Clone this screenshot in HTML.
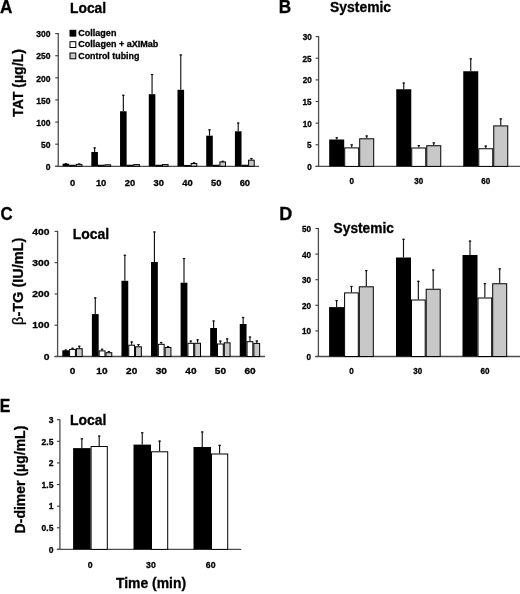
<!DOCTYPE html>
<html><head><meta charset="utf-8"><style>
html,body{margin:0;padding:0;background:#fff;}
svg{display:block;font-family:"Liberation Sans", sans-serif;will-change:transform;}
text{stroke:#000;stroke-width:0.3px;paint-order:stroke;}
</style></head><body>
<svg width="520" height="594" viewBox="0 0 520 594">
<rect width="520" height="594" fill="#fff"/>
<line x1="58.25" y1="33.10" x2="58.25" y2="166.30" stroke="#4d4d4d" stroke-width="1.3"/>
<line x1="55.25" y1="166.30" x2="58.25" y2="166.30" stroke="#3a3a3a" stroke-width="1.1"/>
<line x1="55.25" y1="144.18" x2="58.25" y2="144.18" stroke="#3a3a3a" stroke-width="1.1"/>
<line x1="55.25" y1="122.07" x2="58.25" y2="122.07" stroke="#3a3a3a" stroke-width="1.1"/>
<line x1="55.25" y1="99.95" x2="58.25" y2="99.95" stroke="#3a3a3a" stroke-width="1.1"/>
<line x1="55.25" y1="77.83" x2="58.25" y2="77.83" stroke="#3a3a3a" stroke-width="1.1"/>
<line x1="55.25" y1="55.72" x2="58.25" y2="55.72" stroke="#3a3a3a" stroke-width="1.1"/>
<line x1="55.25" y1="33.60" x2="58.25" y2="33.60" stroke="#3a3a3a" stroke-width="1.1"/>
<line x1="55.25" y1="166.30" x2="259.10" y2="166.30" stroke="#4d4d4d" stroke-width="1.3"/>
<text x="45.83" y="170.00" font-size="9.2" font-weight="bold" textLength="4.76" lengthAdjust="spacingAndGlyphs" >0</text>
<text x="41.09" y="147.88" font-size="9.2" font-weight="bold" textLength="9.51" lengthAdjust="spacingAndGlyphs" >50</text>
<text x="36.34" y="125.77" font-size="9.2" font-weight="bold" textLength="14.28" lengthAdjust="spacingAndGlyphs" >100</text>
<text x="36.34" y="103.65" font-size="9.2" font-weight="bold" textLength="14.28" lengthAdjust="spacingAndGlyphs" >150</text>
<text x="36.34" y="81.53" font-size="9.2" font-weight="bold" textLength="14.28" lengthAdjust="spacingAndGlyphs" >200</text>
<text x="36.34" y="59.42" font-size="9.2" font-weight="bold" textLength="14.28" lengthAdjust="spacingAndGlyphs" >250</text>
<text x="36.34" y="37.30" font-size="9.2" font-weight="bold" textLength="14.28" lengthAdjust="spacingAndGlyphs" >300</text>
<line x1="65.90" y1="163.20" x2="65.90" y2="163.65" stroke="#111" stroke-width="1.15"/>
<line x1="64.70" y1="163.80" x2="67.10" y2="163.80" stroke="#111" stroke-width="1.2"/>
<rect x="62.60" y="163.65" width="6.60" height="2.65" fill="#000" stroke="none" stroke-width="0"/>
<rect x="69.70" y="165.25" width="5.60" height="1.05" fill="#fff" stroke="#000" stroke-width="1"/>
<line x1="79.10" y1="163.42" x2="79.10" y2="163.87" stroke="#111" stroke-width="1.15"/>
<line x1="77.90" y1="164.02" x2="80.30" y2="164.02" stroke="#111" stroke-width="1.2"/>
<rect x="76.30" y="164.37" width="5.60" height="1.93" fill="#c8c8c8" stroke="#000" stroke-width="1"/>
<text x="69.90" y="185.70" font-size="9" font-weight="bold" textLength="5.20" lengthAdjust="spacingAndGlyphs" >0</text>
<line x1="94.62" y1="147.37" x2="94.62" y2="151.97" stroke="#111" stroke-width="1.15"/>
<line x1="93.42" y1="147.97" x2="95.82" y2="147.97" stroke="#111" stroke-width="1.2"/>
<rect x="91.32" y="151.97" width="6.60" height="14.33" fill="#000" stroke="none" stroke-width="0"/>
<rect x="98.42" y="165.25" width="5.60" height="1.05" fill="#fff" stroke="#000" stroke-width="1"/>
<rect x="105.02" y="164.81" width="5.60" height="1.49" fill="#c8c8c8" stroke="#000" stroke-width="1"/>
<text x="95.92" y="185.70" font-size="9" font-weight="bold" textLength="10.41" lengthAdjust="spacingAndGlyphs" >10</text>
<line x1="123.34" y1="94.73" x2="123.34" y2="111.27" stroke="#111" stroke-width="1.15"/>
<line x1="122.14" y1="95.33" x2="124.54" y2="95.33" stroke="#111" stroke-width="1.2"/>
<rect x="120.04" y="111.27" width="6.60" height="55.03" fill="#000" stroke="none" stroke-width="0"/>
<rect x="127.14" y="165.25" width="5.60" height="1.05" fill="#fff" stroke="#000" stroke-width="1"/>
<rect x="133.74" y="164.59" width="5.60" height="1.71" fill="#c8c8c8" stroke="#000" stroke-width="1"/>
<text x="124.79" y="185.70" font-size="9" font-weight="bold" textLength="10.41" lengthAdjust="spacingAndGlyphs" >20</text>
<line x1="152.06" y1="73.94" x2="152.06" y2="94.20" stroke="#111" stroke-width="1.15"/>
<line x1="150.86" y1="74.54" x2="153.26" y2="74.54" stroke="#111" stroke-width="1.2"/>
<rect x="148.76" y="94.20" width="6.60" height="72.10" fill="#000" stroke="none" stroke-width="0"/>
<rect x="155.86" y="165.25" width="5.60" height="1.05" fill="#fff" stroke="#000" stroke-width="1"/>
<rect x="162.46" y="164.59" width="5.60" height="1.71" fill="#c8c8c8" stroke="#000" stroke-width="1"/>
<text x="153.56" y="185.70" font-size="9" font-weight="bold" textLength="10.41" lengthAdjust="spacingAndGlyphs" >30</text>
<line x1="180.78" y1="54.39" x2="180.78" y2="89.78" stroke="#111" stroke-width="1.15"/>
<line x1="179.58" y1="54.99" x2="181.98" y2="54.99" stroke="#111" stroke-width="1.2"/>
<rect x="177.48" y="89.78" width="6.60" height="76.52" fill="#000" stroke="none" stroke-width="0"/>
<rect x="184.58" y="165.47" width="5.60" height="0.83" fill="#fff" stroke="#000" stroke-width="1"/>
<line x1="193.98" y1="162.32" x2="193.98" y2="162.98" stroke="#111" stroke-width="1.15"/>
<line x1="192.78" y1="162.92" x2="195.18" y2="162.92" stroke="#111" stroke-width="1.2"/>
<rect x="191.18" y="163.48" width="5.60" height="2.82" fill="#c8c8c8" stroke="#000" stroke-width="1"/>
<text x="182.34" y="185.70" font-size="9" font-weight="bold" textLength="10.41" lengthAdjust="spacingAndGlyphs" >40</text>
<line x1="209.50" y1="129.28" x2="209.50" y2="135.69" stroke="#111" stroke-width="1.15"/>
<line x1="208.30" y1="129.88" x2="210.70" y2="129.88" stroke="#111" stroke-width="1.2"/>
<rect x="206.20" y="135.69" width="6.60" height="30.61" fill="#000" stroke="none" stroke-width="0"/>
<rect x="213.30" y="165.25" width="5.60" height="1.05" fill="#fff" stroke="#000" stroke-width="1"/>
<line x1="222.70" y1="160.77" x2="222.70" y2="161.43" stroke="#111" stroke-width="1.15"/>
<line x1="221.50" y1="161.37" x2="223.90" y2="161.37" stroke="#111" stroke-width="1.2"/>
<rect x="219.90" y="161.93" width="5.60" height="4.37" fill="#c8c8c8" stroke="#000" stroke-width="1"/>
<text x="210.95" y="185.70" font-size="9" font-weight="bold" textLength="10.41" lengthAdjust="spacingAndGlyphs" >50</text>
<line x1="238.22" y1="122.51" x2="238.22" y2="131.27" stroke="#111" stroke-width="1.15"/>
<line x1="237.02" y1="123.11" x2="239.42" y2="123.11" stroke="#111" stroke-width="1.2"/>
<rect x="234.92" y="131.27" width="6.60" height="35.03" fill="#000" stroke="none" stroke-width="0"/>
<rect x="242.02" y="165.25" width="5.60" height="1.05" fill="#fff" stroke="#000" stroke-width="1"/>
<line x1="251.42" y1="157.90" x2="251.42" y2="159.67" stroke="#111" stroke-width="1.15"/>
<line x1="250.22" y1="158.50" x2="252.62" y2="158.50" stroke="#111" stroke-width="1.2"/>
<rect x="248.62" y="160.17" width="5.60" height="6.13" fill="#c8c8c8" stroke="#000" stroke-width="1"/>
<text x="239.67" y="185.70" font-size="9" font-weight="bold" textLength="10.41" lengthAdjust="spacingAndGlyphs" >60</text>
<rect x="70.00" y="30.30" width="5.80" height="5.80" fill="#000" stroke="#000" stroke-width="1"/>
<text x="78.30" y="36.00" font-size="9" font-weight="bold" textLength="38.10" lengthAdjust="spacingAndGlyphs" >Collagen</text>
<rect x="70.00" y="41.70" width="5.80" height="5.80" fill="#fff" stroke="#000" stroke-width="1"/>
<text x="78.30" y="47.40" font-size="9" font-weight="bold" textLength="80.06" lengthAdjust="spacingAndGlyphs" >Collagen + aXIMab</text>
<rect x="70.00" y="53.00" width="5.80" height="5.80" fill="#c8c8c8" stroke="#000" stroke-width="1"/>
<text x="78.31" y="58.70" font-size="9" font-weight="bold" textLength="61.07" lengthAdjust="spacingAndGlyphs" >Control tubing</text>
<text x="-0.09" y="12.50" font-size="17.5" font-weight="bold" textLength="12.42" lengthAdjust="spacingAndGlyphs" >A</text>
<text x="70.01" y="13.00" font-size="14" font-weight="bold" textLength="36.14" lengthAdjust="spacingAndGlyphs" >Local</text>
<text transform="translate(22.80,116.90) rotate(-90)" x="0" y="0" font-size="14" font-weight="bold" textLength="67.82" lengthAdjust="spacingAndGlyphs" >TAT (µg/L)</text>
<line x1="318.60" y1="36.10" x2="318.60" y2="166.40" stroke="#4d4d4d" stroke-width="1.3"/>
<line x1="315.60" y1="166.40" x2="318.60" y2="166.40" stroke="#3a3a3a" stroke-width="1.1"/>
<line x1="315.60" y1="144.77" x2="318.60" y2="144.77" stroke="#3a3a3a" stroke-width="1.1"/>
<line x1="315.60" y1="123.13" x2="318.60" y2="123.13" stroke="#3a3a3a" stroke-width="1.1"/>
<line x1="315.60" y1="101.50" x2="318.60" y2="101.50" stroke="#3a3a3a" stroke-width="1.1"/>
<line x1="315.60" y1="79.87" x2="318.60" y2="79.87" stroke="#3a3a3a" stroke-width="1.1"/>
<line x1="315.60" y1="58.23" x2="318.60" y2="58.23" stroke="#3a3a3a" stroke-width="1.1"/>
<line x1="315.60" y1="36.60" x2="318.60" y2="36.60" stroke="#3a3a3a" stroke-width="1.1"/>
<line x1="315.60" y1="166.40" x2="520.00" y2="166.40" stroke="#4d4d4d" stroke-width="1.3"/>
<text x="307.21" y="169.90" font-size="8.8" font-weight="bold" textLength="4.55" lengthAdjust="spacingAndGlyphs" >0</text>
<text x="307.12" y="148.27" font-size="8.8" font-weight="bold" textLength="4.55" lengthAdjust="spacingAndGlyphs" >5</text>
<text x="302.66" y="126.63" font-size="8.8" font-weight="bold" textLength="9.10" lengthAdjust="spacingAndGlyphs" >10</text>
<text x="302.56" y="105.00" font-size="8.8" font-weight="bold" textLength="9.10" lengthAdjust="spacingAndGlyphs" >15</text>
<text x="302.66" y="83.37" font-size="8.8" font-weight="bold" textLength="9.10" lengthAdjust="spacingAndGlyphs" >20</text>
<text x="302.56" y="61.73" font-size="8.8" font-weight="bold" textLength="9.10" lengthAdjust="spacingAndGlyphs" >25</text>
<text x="302.66" y="40.10" font-size="8.8" font-weight="bold" textLength="9.10" lengthAdjust="spacingAndGlyphs" >30</text>
<line x1="336.70" y1="137.20" x2="336.70" y2="139.50" stroke="#111" stroke-width="1.15"/>
<line x1="335.50" y1="137.80" x2="337.90" y2="137.80" stroke="#111" stroke-width="1.2"/>
<rect x="329.20" y="139.50" width="15.00" height="26.90" fill="#000" stroke="none" stroke-width="0"/>
<line x1="351.70" y1="144.30" x2="351.70" y2="147.40" stroke="#111" stroke-width="1.15"/>
<line x1="350.50" y1="144.90" x2="352.90" y2="144.90" stroke="#111" stroke-width="1.2"/>
<rect x="344.70" y="147.90" width="14.00" height="18.50" fill="#fff" stroke="#000" stroke-width="1"/>
<line x1="366.70" y1="135.40" x2="366.70" y2="138.30" stroke="#111" stroke-width="1.15"/>
<line x1="365.50" y1="136.00" x2="367.90" y2="136.00" stroke="#111" stroke-width="1.2"/>
<rect x="359.70" y="138.80" width="14.00" height="27.60" fill="#c8c8c8" stroke="#000" stroke-width="1"/>
<text x="349.47" y="184.00" font-size="8.5" font-weight="bold" textLength="4.49" lengthAdjust="spacingAndGlyphs" >0</text>
<line x1="403.75" y1="82.50" x2="403.75" y2="89.25" stroke="#111" stroke-width="1.15"/>
<line x1="402.55" y1="83.10" x2="404.95" y2="83.10" stroke="#111" stroke-width="1.2"/>
<rect x="396.25" y="89.25" width="15.00" height="77.15" fill="#000" stroke="none" stroke-width="0"/>
<line x1="418.75" y1="145.00" x2="418.75" y2="147.50" stroke="#111" stroke-width="1.15"/>
<line x1="417.55" y1="145.60" x2="419.95" y2="145.60" stroke="#111" stroke-width="1.2"/>
<rect x="411.75" y="148.00" width="14.00" height="18.40" fill="#fff" stroke="#000" stroke-width="1"/>
<line x1="433.75" y1="142.25" x2="433.75" y2="145.25" stroke="#111" stroke-width="1.15"/>
<line x1="432.55" y1="142.85" x2="434.95" y2="142.85" stroke="#111" stroke-width="1.2"/>
<rect x="426.75" y="145.75" width="14.00" height="20.65" fill="#c8c8c8" stroke="#000" stroke-width="1"/>
<text x="414.33" y="184.00" font-size="8.5" font-weight="bold" textLength="8.98" lengthAdjust="spacingAndGlyphs" >30</text>
<line x1="470.75" y1="58.25" x2="470.75" y2="71.25" stroke="#111" stroke-width="1.15"/>
<line x1="469.55" y1="58.85" x2="471.95" y2="58.85" stroke="#111" stroke-width="1.2"/>
<rect x="463.25" y="71.25" width="15.00" height="95.15" fill="#000" stroke="none" stroke-width="0"/>
<line x1="485.75" y1="145.50" x2="485.75" y2="148.25" stroke="#111" stroke-width="1.15"/>
<line x1="484.55" y1="146.10" x2="486.95" y2="146.10" stroke="#111" stroke-width="1.2"/>
<rect x="478.75" y="148.75" width="14.00" height="17.65" fill="#fff" stroke="#000" stroke-width="1"/>
<line x1="500.75" y1="118.30" x2="500.75" y2="125.40" stroke="#111" stroke-width="1.15"/>
<line x1="499.55" y1="118.90" x2="501.95" y2="118.90" stroke="#111" stroke-width="1.2"/>
<rect x="493.75" y="125.90" width="14.00" height="40.50" fill="#c8c8c8" stroke="#000" stroke-width="1"/>
<text x="481.28" y="184.00" font-size="8.5" font-weight="bold" textLength="8.98" lengthAdjust="spacingAndGlyphs" >60</text>
<text x="278.72" y="12.70" font-size="17.5" font-weight="bold" textLength="12.40" lengthAdjust="spacingAndGlyphs" >B</text>
<text x="330.10" y="11.60" font-size="14" font-weight="bold" textLength="60.97" lengthAdjust="spacingAndGlyphs" >Systemic</text>
<line x1="57.60" y1="230.90" x2="57.60" y2="356.50" stroke="#4d4d4d" stroke-width="1.3"/>
<line x1="54.60" y1="356.50" x2="57.60" y2="356.50" stroke="#3a3a3a" stroke-width="1.1"/>
<line x1="54.60" y1="325.23" x2="57.60" y2="325.23" stroke="#3a3a3a" stroke-width="1.1"/>
<line x1="54.60" y1="293.95" x2="57.60" y2="293.95" stroke="#3a3a3a" stroke-width="1.1"/>
<line x1="54.60" y1="262.68" x2="57.60" y2="262.68" stroke="#3a3a3a" stroke-width="1.1"/>
<line x1="54.60" y1="231.40" x2="57.60" y2="231.40" stroke="#3a3a3a" stroke-width="1.1"/>
<line x1="54.60" y1="356.50" x2="265.00" y2="356.50" stroke="#4d4d4d" stroke-width="1.3"/>
<text x="43.71" y="359.60" font-size="9" font-weight="bold" textLength="5.75" lengthAdjust="spacingAndGlyphs" >0</text>
<text x="32.21" y="328.33" font-size="9" font-weight="bold" textLength="17.26" lengthAdjust="spacingAndGlyphs" >100</text>
<text x="32.21" y="297.05" font-size="9" font-weight="bold" textLength="17.26" lengthAdjust="spacingAndGlyphs" >200</text>
<text x="32.21" y="265.78" font-size="9" font-weight="bold" textLength="17.26" lengthAdjust="spacingAndGlyphs" >300</text>
<text x="32.21" y="234.50" font-size="9" font-weight="bold" textLength="17.26" lengthAdjust="spacingAndGlyphs" >400</text>
<line x1="65.70" y1="349.50" x2="65.70" y2="350.30" stroke="#111" stroke-width="1.15"/>
<line x1="64.50" y1="350.10" x2="66.90" y2="350.10" stroke="#111" stroke-width="1.2"/>
<rect x="62.30" y="350.30" width="6.80" height="6.20" fill="#000" stroke="none" stroke-width="0"/>
<line x1="72.50" y1="347.70" x2="72.50" y2="348.90" stroke="#111" stroke-width="1.15"/>
<line x1="71.30" y1="348.30" x2="73.70" y2="348.30" stroke="#111" stroke-width="1.2"/>
<rect x="69.60" y="349.40" width="5.80" height="7.10" fill="#fff" stroke="#000" stroke-width="1"/>
<line x1="79.30" y1="345.70" x2="79.30" y2="348.20" stroke="#111" stroke-width="1.15"/>
<line x1="78.10" y1="346.30" x2="80.50" y2="346.30" stroke="#111" stroke-width="1.2"/>
<rect x="76.40" y="348.70" width="5.80" height="7.80" fill="#c8c8c8" stroke="#000" stroke-width="1"/>
<text x="69.70" y="373.90" font-size="9" font-weight="bold" textLength="5.60" lengthAdjust="spacingAndGlyphs" >0</text>
<line x1="95.28" y1="297.30" x2="95.28" y2="314.10" stroke="#111" stroke-width="1.15"/>
<line x1="94.08" y1="297.90" x2="96.48" y2="297.90" stroke="#111" stroke-width="1.2"/>
<rect x="91.88" y="314.10" width="6.80" height="42.40" fill="#000" stroke="none" stroke-width="0"/>
<line x1="102.08" y1="348.70" x2="102.08" y2="350.40" stroke="#111" stroke-width="1.15"/>
<line x1="100.88" y1="349.30" x2="103.28" y2="349.30" stroke="#111" stroke-width="1.2"/>
<rect x="99.17" y="350.90" width="5.80" height="5.60" fill="#fff" stroke="#000" stroke-width="1"/>
<line x1="108.88" y1="351.00" x2="108.88" y2="352.20" stroke="#111" stroke-width="1.15"/>
<line x1="107.67" y1="351.60" x2="110.08" y2="351.60" stroke="#111" stroke-width="1.2"/>
<rect x="105.97" y="352.70" width="5.80" height="3.80" fill="#c8c8c8" stroke="#000" stroke-width="1"/>
<text x="96.36" y="373.90" font-size="9" font-weight="bold" textLength="11.21" lengthAdjust="spacingAndGlyphs" >10</text>
<line x1="124.85" y1="254.70" x2="124.85" y2="280.80" stroke="#111" stroke-width="1.15"/>
<line x1="123.65" y1="255.30" x2="126.05" y2="255.30" stroke="#111" stroke-width="1.2"/>
<rect x="121.45" y="280.80" width="6.80" height="75.70" fill="#000" stroke="none" stroke-width="0"/>
<line x1="131.65" y1="341.40" x2="131.65" y2="344.70" stroke="#111" stroke-width="1.15"/>
<line x1="130.45" y1="342.00" x2="132.85" y2="342.00" stroke="#111" stroke-width="1.2"/>
<rect x="128.75" y="345.20" width="5.80" height="11.30" fill="#fff" stroke="#000" stroke-width="1"/>
<line x1="138.45" y1="344.00" x2="138.45" y2="346.30" stroke="#111" stroke-width="1.15"/>
<line x1="137.25" y1="344.60" x2="139.65" y2="344.60" stroke="#111" stroke-width="1.2"/>
<rect x="135.55" y="346.80" width="5.80" height="9.70" fill="#c8c8c8" stroke="#000" stroke-width="1"/>
<text x="126.11" y="373.90" font-size="9" font-weight="bold" textLength="11.21" lengthAdjust="spacingAndGlyphs" >20</text>
<line x1="154.42" y1="231.40" x2="154.42" y2="262.00" stroke="#111" stroke-width="1.15"/>
<line x1="153.22" y1="232.00" x2="155.62" y2="232.00" stroke="#111" stroke-width="1.2"/>
<rect x="151.02" y="262.00" width="6.80" height="94.50" fill="#000" stroke="none" stroke-width="0"/>
<line x1="161.22" y1="341.90" x2="161.22" y2="343.80" stroke="#111" stroke-width="1.15"/>
<line x1="160.03" y1="342.50" x2="162.42" y2="342.50" stroke="#111" stroke-width="1.2"/>
<rect x="158.32" y="344.30" width="5.80" height="12.20" fill="#fff" stroke="#000" stroke-width="1"/>
<line x1="168.02" y1="346.00" x2="168.02" y2="347.00" stroke="#111" stroke-width="1.15"/>
<line x1="166.82" y1="346.60" x2="169.22" y2="346.60" stroke="#111" stroke-width="1.2"/>
<rect x="165.12" y="347.50" width="5.80" height="9.00" fill="#c8c8c8" stroke="#000" stroke-width="1"/>
<text x="155.74" y="373.90" font-size="9" font-weight="bold" textLength="11.21" lengthAdjust="spacingAndGlyphs" >30</text>
<line x1="184.00" y1="258.00" x2="184.00" y2="282.70" stroke="#111" stroke-width="1.15"/>
<line x1="182.80" y1="258.60" x2="185.20" y2="258.60" stroke="#111" stroke-width="1.2"/>
<rect x="180.60" y="282.70" width="6.80" height="73.80" fill="#000" stroke="none" stroke-width="0"/>
<line x1="190.80" y1="340.50" x2="190.80" y2="342.80" stroke="#111" stroke-width="1.15"/>
<line x1="189.60" y1="341.10" x2="192.00" y2="341.10" stroke="#111" stroke-width="1.2"/>
<rect x="187.90" y="343.30" width="5.80" height="13.20" fill="#fff" stroke="#000" stroke-width="1"/>
<line x1="197.60" y1="339.30" x2="197.60" y2="342.80" stroke="#111" stroke-width="1.15"/>
<line x1="196.40" y1="339.90" x2="198.80" y2="339.90" stroke="#111" stroke-width="1.2"/>
<rect x="194.70" y="343.30" width="5.80" height="13.20" fill="#c8c8c8" stroke="#000" stroke-width="1"/>
<text x="185.37" y="373.90" font-size="9" font-weight="bold" textLength="11.21" lengthAdjust="spacingAndGlyphs" >40</text>
<line x1="213.58" y1="320.40" x2="213.58" y2="328.00" stroke="#111" stroke-width="1.15"/>
<line x1="212.38" y1="321.00" x2="214.78" y2="321.00" stroke="#111" stroke-width="1.2"/>
<rect x="210.18" y="328.00" width="6.80" height="28.50" fill="#000" stroke="none" stroke-width="0"/>
<line x1="220.38" y1="340.50" x2="220.38" y2="343.50" stroke="#111" stroke-width="1.15"/>
<line x1="219.18" y1="341.10" x2="221.58" y2="341.10" stroke="#111" stroke-width="1.2"/>
<rect x="217.48" y="344.00" width="5.80" height="12.50" fill="#fff" stroke="#000" stroke-width="1"/>
<line x1="227.18" y1="338.30" x2="227.18" y2="342.30" stroke="#111" stroke-width="1.15"/>
<line x1="225.98" y1="338.90" x2="228.38" y2="338.90" stroke="#111" stroke-width="1.2"/>
<rect x="224.28" y="342.80" width="5.80" height="13.70" fill="#c8c8c8" stroke="#000" stroke-width="1"/>
<text x="214.83" y="373.90" font-size="9" font-weight="bold" textLength="11.21" lengthAdjust="spacingAndGlyphs" >50</text>
<line x1="243.15" y1="316.90" x2="243.15" y2="324.00" stroke="#111" stroke-width="1.15"/>
<line x1="241.95" y1="317.50" x2="244.35" y2="317.50" stroke="#111" stroke-width="1.2"/>
<rect x="239.75" y="324.00" width="6.80" height="32.50" fill="#000" stroke="none" stroke-width="0"/>
<line x1="249.95" y1="336.50" x2="249.95" y2="341.20" stroke="#111" stroke-width="1.15"/>
<line x1="248.75" y1="337.10" x2="251.15" y2="337.10" stroke="#111" stroke-width="1.2"/>
<rect x="247.05" y="341.70" width="5.80" height="14.80" fill="#fff" stroke="#000" stroke-width="1"/>
<line x1="256.75" y1="340.40" x2="256.75" y2="342.90" stroke="#111" stroke-width="1.15"/>
<line x1="255.55" y1="341.00" x2="257.95" y2="341.00" stroke="#111" stroke-width="1.2"/>
<rect x="253.85" y="343.40" width="5.80" height="13.10" fill="#c8c8c8" stroke="#000" stroke-width="1"/>
<text x="244.41" y="373.90" font-size="9" font-weight="bold" textLength="11.21" lengthAdjust="spacingAndGlyphs" >60</text>
<text x="0.48" y="219.70" font-size="17.5" font-weight="bold" textLength="12.14" lengthAdjust="spacingAndGlyphs" >C</text>
<text x="72.70" y="239.30" font-size="14" font-weight="bold" textLength="36.45" lengthAdjust="spacingAndGlyphs" >Local</text>
<text transform="translate(22.9,324.94) rotate(-90)" font-size="14" font-weight="bold" textLength="87.37" lengthAdjust="spacingAndGlyphs"><tspan font-weight="normal">β</tspan>-TG (IU/mL)</text>
<line x1="318.40" y1="228.00" x2="318.40" y2="356.50" stroke="#4d4d4d" stroke-width="1.3"/>
<line x1="315.40" y1="356.50" x2="318.40" y2="356.50" stroke="#3a3a3a" stroke-width="1.1"/>
<line x1="315.40" y1="330.90" x2="318.40" y2="330.90" stroke="#3a3a3a" stroke-width="1.1"/>
<line x1="315.40" y1="305.30" x2="318.40" y2="305.30" stroke="#3a3a3a" stroke-width="1.1"/>
<line x1="315.40" y1="279.70" x2="318.40" y2="279.70" stroke="#3a3a3a" stroke-width="1.1"/>
<line x1="315.40" y1="254.10" x2="318.40" y2="254.10" stroke="#3a3a3a" stroke-width="1.1"/>
<line x1="315.40" y1="228.50" x2="318.40" y2="228.50" stroke="#3a3a3a" stroke-width="1.1"/>
<line x1="315.40" y1="356.50" x2="520.00" y2="356.50" stroke="#4d4d4d" stroke-width="1.3"/>
<text x="306.62" y="360.00" font-size="8.8" font-weight="bold" textLength="4.55" lengthAdjust="spacingAndGlyphs" >0</text>
<text x="302.06" y="334.40" font-size="8.8" font-weight="bold" textLength="9.10" lengthAdjust="spacingAndGlyphs" >10</text>
<text x="302.06" y="308.80" font-size="8.8" font-weight="bold" textLength="9.10" lengthAdjust="spacingAndGlyphs" >20</text>
<text x="302.06" y="283.20" font-size="8.8" font-weight="bold" textLength="9.10" lengthAdjust="spacingAndGlyphs" >30</text>
<text x="302.06" y="257.60" font-size="8.8" font-weight="bold" textLength="9.10" lengthAdjust="spacingAndGlyphs" >40</text>
<text x="302.06" y="232.00" font-size="8.8" font-weight="bold" textLength="9.10" lengthAdjust="spacingAndGlyphs" >50</text>
<line x1="336.60" y1="300.00" x2="336.60" y2="307.10" stroke="#111" stroke-width="1.15"/>
<line x1="335.40" y1="300.60" x2="337.80" y2="300.60" stroke="#111" stroke-width="1.2"/>
<rect x="329.10" y="307.10" width="15.00" height="49.40" fill="#000" stroke="none" stroke-width="0"/>
<line x1="351.45" y1="285.90" x2="351.45" y2="292.40" stroke="#111" stroke-width="1.15"/>
<line x1="350.25" y1="286.50" x2="352.65" y2="286.50" stroke="#111" stroke-width="1.2"/>
<rect x="344.60" y="292.90" width="13.70" height="63.60" fill="#fff" stroke="#000" stroke-width="1"/>
<line x1="366.30" y1="270.00" x2="366.30" y2="286.30" stroke="#111" stroke-width="1.15"/>
<line x1="365.10" y1="270.60" x2="367.50" y2="270.60" stroke="#111" stroke-width="1.2"/>
<rect x="359.30" y="286.80" width="14.00" height="69.70" fill="#c8c8c8" stroke="#000" stroke-width="1"/>
<text x="349.22" y="373.70" font-size="8.5" font-weight="bold" textLength="4.49" lengthAdjust="spacingAndGlyphs" >0</text>
<line x1="403.50" y1="238.75" x2="403.50" y2="257.50" stroke="#111" stroke-width="1.15"/>
<line x1="402.30" y1="239.35" x2="404.70" y2="239.35" stroke="#111" stroke-width="1.2"/>
<rect x="396.00" y="257.50" width="15.00" height="99.00" fill="#000" stroke="none" stroke-width="0"/>
<line x1="418.35" y1="280.75" x2="418.35" y2="299.50" stroke="#111" stroke-width="1.15"/>
<line x1="417.15" y1="281.35" x2="419.55" y2="281.35" stroke="#111" stroke-width="1.2"/>
<rect x="411.50" y="300.00" width="13.70" height="56.50" fill="#fff" stroke="#000" stroke-width="1"/>
<line x1="433.20" y1="269.50" x2="433.20" y2="288.75" stroke="#111" stroke-width="1.15"/>
<line x1="432.00" y1="270.10" x2="434.40" y2="270.10" stroke="#111" stroke-width="1.2"/>
<rect x="426.20" y="289.25" width="14.00" height="67.25" fill="#c8c8c8" stroke="#000" stroke-width="1"/>
<text x="413.28" y="373.70" font-size="8.5" font-weight="bold" textLength="8.98" lengthAdjust="spacingAndGlyphs" >30</text>
<line x1="470.00" y1="240.50" x2="470.00" y2="255.00" stroke="#111" stroke-width="1.15"/>
<line x1="468.80" y1="241.10" x2="471.20" y2="241.10" stroke="#111" stroke-width="1.2"/>
<rect x="462.50" y="255.00" width="15.00" height="101.50" fill="#000" stroke="none" stroke-width="0"/>
<line x1="484.85" y1="283.00" x2="484.85" y2="297.50" stroke="#111" stroke-width="1.15"/>
<line x1="483.65" y1="283.60" x2="486.05" y2="283.60" stroke="#111" stroke-width="1.2"/>
<rect x="478.00" y="298.00" width="13.70" height="58.50" fill="#fff" stroke="#000" stroke-width="1"/>
<line x1="499.70" y1="268.25" x2="499.70" y2="283.25" stroke="#111" stroke-width="1.15"/>
<line x1="498.50" y1="268.85" x2="500.90" y2="268.85" stroke="#111" stroke-width="1.2"/>
<rect x="492.70" y="283.75" width="14.00" height="72.75" fill="#c8c8c8" stroke="#000" stroke-width="1"/>
<text x="480.43" y="373.70" font-size="8.5" font-weight="bold" textLength="8.98" lengthAdjust="spacingAndGlyphs" >60</text>
<text x="279.17" y="219.90" font-size="17.5" font-weight="bold" textLength="12.99" lengthAdjust="spacingAndGlyphs" >D</text>
<text x="333.61" y="233.10" font-size="14" font-weight="bold" textLength="60.26" lengthAdjust="spacingAndGlyphs" >Systemic</text>
<line x1="59.90" y1="419.20" x2="59.90" y2="549.40" stroke="#4d4d4d" stroke-width="1.3"/>
<line x1="56.90" y1="549.40" x2="59.90" y2="549.40" stroke="#3a3a3a" stroke-width="1.1"/>
<line x1="56.90" y1="527.78" x2="59.90" y2="527.78" stroke="#3a3a3a" stroke-width="1.1"/>
<line x1="56.90" y1="506.17" x2="59.90" y2="506.17" stroke="#3a3a3a" stroke-width="1.1"/>
<line x1="56.90" y1="484.55" x2="59.90" y2="484.55" stroke="#3a3a3a" stroke-width="1.1"/>
<line x1="56.90" y1="462.93" x2="59.90" y2="462.93" stroke="#3a3a3a" stroke-width="1.1"/>
<line x1="56.90" y1="441.32" x2="59.90" y2="441.32" stroke="#3a3a3a" stroke-width="1.1"/>
<line x1="56.90" y1="419.70" x2="59.90" y2="419.70" stroke="#3a3a3a" stroke-width="1.1"/>
<line x1="56.90" y1="549.40" x2="241.20" y2="549.40" stroke="#4d4d4d" stroke-width="1.3"/>
<text x="48.83" y="552.60" font-size="9" font-weight="bold" textLength="4.75" lengthAdjust="spacingAndGlyphs" >0</text>
<text x="41.52" y="530.98" font-size="9" font-weight="bold" textLength="11.88" lengthAdjust="spacingAndGlyphs" >0.5</text>
<text x="48.64" y="509.37" font-size="9" font-weight="bold" textLength="4.75" lengthAdjust="spacingAndGlyphs" >1</text>
<text x="41.52" y="487.75" font-size="9" font-weight="bold" textLength="11.88" lengthAdjust="spacingAndGlyphs" >1.5</text>
<text x="48.83" y="466.13" font-size="9" font-weight="bold" textLength="4.75" lengthAdjust="spacingAndGlyphs" >2</text>
<text x="41.52" y="444.52" font-size="9" font-weight="bold" textLength="11.88" lengthAdjust="spacingAndGlyphs" >2.5</text>
<text x="48.74" y="422.90" font-size="9" font-weight="bold" textLength="4.75" lengthAdjust="spacingAndGlyphs" >3</text>
<line x1="81.85" y1="438.20" x2="81.85" y2="448.10" stroke="#111" stroke-width="1.15"/>
<line x1="80.65" y1="438.80" x2="83.05" y2="438.80" stroke="#111" stroke-width="1.2"/>
<rect x="73.10" y="448.10" width="17.50" height="101.30" fill="#000" stroke="none" stroke-width="0"/>
<line x1="99.20" y1="435.50" x2="99.20" y2="446.00" stroke="#111" stroke-width="1.15"/>
<line x1="98.00" y1="436.10" x2="100.40" y2="436.10" stroke="#111" stroke-width="1.2"/>
<rect x="91.10" y="446.50" width="16.20" height="102.90" fill="#fff" stroke="#000" stroke-width="1"/>
<text x="87.75" y="568.30" font-size="8.7" font-weight="bold" textLength="4.84" lengthAdjust="spacingAndGlyphs" >0</text>
<line x1="142.25" y1="432.20" x2="142.25" y2="444.60" stroke="#111" stroke-width="1.15"/>
<line x1="141.05" y1="432.80" x2="143.45" y2="432.80" stroke="#111" stroke-width="1.2"/>
<rect x="133.50" y="444.60" width="17.50" height="104.80" fill="#000" stroke="none" stroke-width="0"/>
<line x1="159.60" y1="440.50" x2="159.60" y2="451.30" stroke="#111" stroke-width="1.15"/>
<line x1="158.40" y1="441.10" x2="160.80" y2="441.10" stroke="#111" stroke-width="1.2"/>
<rect x="151.50" y="451.80" width="16.20" height="97.60" fill="#fff" stroke="#000" stroke-width="1"/>
<text x="146.05" y="568.30" font-size="8.7" font-weight="bold" textLength="9.68" lengthAdjust="spacingAndGlyphs" >30</text>
<line x1="202.25" y1="431.40" x2="202.25" y2="447.00" stroke="#111" stroke-width="1.15"/>
<line x1="201.05" y1="432.00" x2="203.45" y2="432.00" stroke="#111" stroke-width="1.2"/>
<rect x="193.50" y="447.00" width="17.50" height="102.40" fill="#000" stroke="none" stroke-width="0"/>
<line x1="219.60" y1="444.80" x2="219.60" y2="453.50" stroke="#111" stroke-width="1.15"/>
<line x1="218.40" y1="445.40" x2="220.80" y2="445.40" stroke="#111" stroke-width="1.2"/>
<rect x="211.50" y="454.00" width="16.20" height="95.40" fill="#fff" stroke="#000" stroke-width="1"/>
<text x="205.80" y="568.30" font-size="8.7" font-weight="bold" textLength="9.68" lengthAdjust="spacingAndGlyphs" >60</text>
<text x="-0.19" y="411.60" font-size="17.5" font-weight="bold" textLength="10.60" lengthAdjust="spacingAndGlyphs" >E</text>
<text x="70.00" y="424.50" font-size="14" font-weight="bold" textLength="36.45" lengthAdjust="spacingAndGlyphs" >Local</text>
<text transform="translate(24.90,533.40) rotate(-90)" x="0" y="0" font-size="14" font-weight="bold" textLength="107.72" lengthAdjust="spacingAndGlyphs" >D-dimer (µg/mL)</text>
<text x="116.00" y="588.20" font-size="14" font-weight="bold" textLength="70.02" lengthAdjust="spacingAndGlyphs" >Time (min)</text>
</svg>
</body></html>
